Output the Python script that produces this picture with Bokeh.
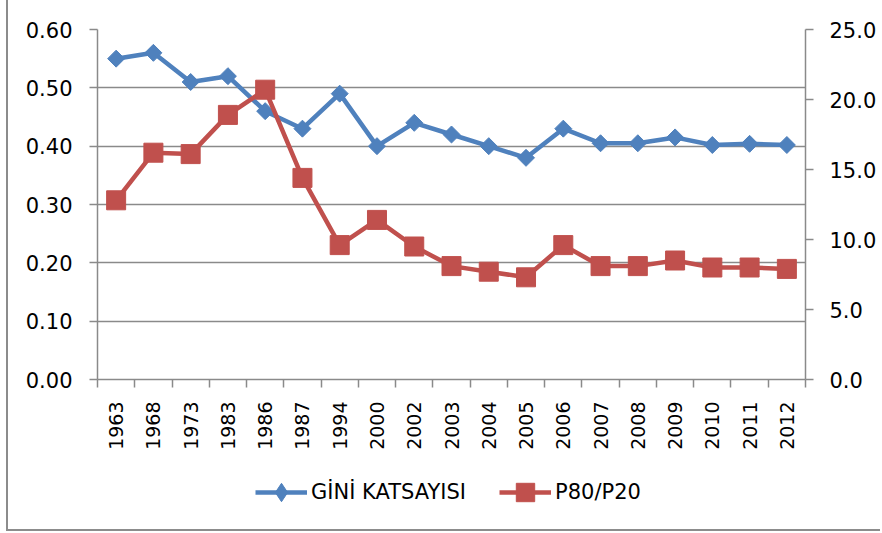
import math
from bokeh.plotting import figure
from bokeh.layouts import column
from bokeh.models import (Range1d, LinearAxis, FixedTicker, Legend, LegendItem,
                          NumeralTickFormatter, Grid)
from bokeh.embed import file_html
from bokeh.resources import INLINE

# ---- data ----
years = ["1963", "1968", "1973", "1983", "1986", "1987", "1994", "2000", "2002",
         "2003", "2004", "2005", "2006", "2007", "2008", "2009", "2010", "2011", "2012"]
gini = [0.55, 0.56, 0.51, 0.52, 0.46, 0.43, 0.49, 0.40, 0.44,
        0.42, 0.40, 0.38, 0.43, 0.405, 0.405, 0.415, 0.402, 0.404, 0.402]
p80p20 = [12.8, 16.2, 16.1, 18.9, 20.7, 14.4, 9.6, 11.4, 9.5,
          8.1, 7.7, 7.3, 9.6, 8.1, 8.1, 8.5, 8.0, 8.0, 7.9]
left_ticks = [0.0, 0.1, 0.2, 0.3, 0.4, 0.5, 0.6]
right_ticks = [0, 5, 10, 15, 20, 25]
series_names = ["GİNİ KATSAYISI", "P80/P20"]

BLUE = "#4F81BD"
RED = "#C0504D"
GRAY = "#8A8A8A"
FONT = "DejaVu Sans"
FS = "21px"
FS_X = "19px"

n = len(years)
x = [i + 0.5 for i in range(n)]

# ---- main chart ----
p = figure(width=872, height=460, output_backend="svg", toolbar_location=None,
           x_range=Range1d(0, n), y_range=Range1d(left_ticks[0], left_ticks[-1]),
           x_axis_type=None, y_axis_type=None,
           min_border_left=89, min_border_right=75, min_border_top=29, min_border_bottom=81)
p.extra_y_ranges = {"r": Range1d(right_ticks[0], right_ticks[-1])}
p.outline_line_color = None
p.background_fill_color = "white"
p.border_fill_color = "white"

def style_axis(ax, fs=FS):
    ax.axis_line_color = GRAY
    ax.axis_line_width = 1.5
    ax.major_tick_line_color = GRAY
    ax.major_tick_line_width = 1.5
    ax.minor_tick_line_color = GRAY
    ax.minor_tick_line_width = 1.5
    ax.major_label_text_font = FONT
    ax.major_label_text_font_size = fs
    ax.major_label_text_color = "black"

left = LinearAxis(ticker=FixedTicker(ticks=left_ticks),
                  formatter=NumeralTickFormatter(format="0.00"))
style_axis(left)
left.major_tick_out = 8
left.major_tick_in = 0
left.minor_tick_line_color = None
left.major_label_standoff = 17
p.add_layout(left, "left")

right = LinearAxis(y_range_name="r", ticker=FixedTicker(ticks=right_ticks),
                   formatter=NumeralTickFormatter(format="0.0"))
style_axis(right)
right.major_tick_out = 8
right.major_tick_in = 0
right.minor_tick_line_color = None
right.major_label_standoff = 16
p.add_layout(right, "right")

bottom = LinearAxis(ticker=FixedTicker(ticks=x, minor_ticks=list(range(n + 1))),
                    major_label_overrides={xi: yr for xi, yr in zip(x, years)},
                    major_label_orientation=math.pi / 2)
style_axis(bottom, FS_X)
bottom.major_tick_out = 0
bottom.major_tick_in = 0
bottom.major_tick_line_color = None
bottom.minor_tick_out = 8
bottom.minor_tick_in = 0
bottom.major_label_standoff = 14
p.add_layout(bottom, "below")

p.add_layout(Grid(dimension=1, ticker=left.ticker, grid_line_color=GRAY, grid_line_width=1.5))

p.line(x, gini, line_color=BLUE, line_width=4.5)
p.scatter(x, gini, marker="square", angle=math.pi / 4, size=12,
          fill_color=BLUE, line_color=BLUE)
p.line(x, p80p20, y_range_name="r", line_color=RED, line_width=4.5)
p.scatter(x, p80p20, y_range_name="r", marker="square", size=19,
          fill_color=RED, line_color=RED)

# ---- legend strip (its series lie outside its own view; only the legend shows) ----
lg = figure(width=872, height=69, output_backend="svg", toolbar_location=None,
            x_range=Range1d(-3, -2), y_range=Range1d(0, 1),
            x_axis_type=None, y_axis_type=None, min_border=0)
lg.outline_line_color = None
lg.xgrid.visible = False
lg.ygrid.visible = False
k1 = lg.line(x, gini, line_color=BLUE, line_width=4.5)
m1 = lg.scatter(x, gini, marker="diamond", fill_color=BLUE, line_color=BLUE)
k2 = lg.line(x, p80p20, line_color=RED, line_width=4.5)
m2 = lg.scatter(x, p80p20, marker="square", fill_color=RED, line_color=RED)
legend = Legend(items=[LegendItem(label=series_names[0], renderers=[k1, m1]),
                       LegendItem(label=series_names[1], renderers=[k2, m2])],
                location=(158, 14), orientation="horizontal",
                glyph_width=52, glyph_height=46, label_standoff=4, spacing=33,
                padding=0, margin=0, border_line_color=None, background_fill_alpha=0,
                label_text_font=FONT, label_text_font_size=FS, label_text_color="black")
lg.add_layout(legend)

layout = column(p, lg, spacing=0)
layout.styles = {"margin-left": "6px",
                 "border-left": "2px solid #8c8c8c",
                 "border-bottom": "2px solid #8c8c8c"}

open("out.html", "w").write(file_html(layout, INLINE))
